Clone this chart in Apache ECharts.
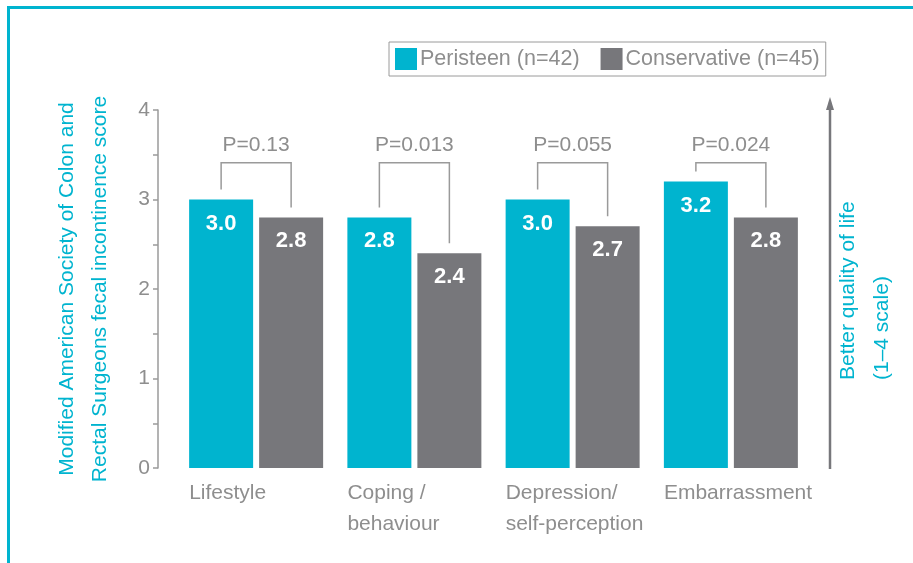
<!DOCTYPE html>
<html>
<head>
<meta charset="utf-8">
<script src="https://cdn.jsdelivr.net/npm/echarts@6/dist/echarts.min.js"></script>
<style>
  html, body { margin: 0; padding: 0; background: #fff; }
  #main { width: 913px; height: 563px; }
</style>
</head>
<body>
<div id="main"></div>
<script>
// data
const categories = ["Lifestyle", "Coping /\nbehaviour", "Depression/\nself-perception", "Embarrassment"];
const peristeen = [3.0, 2.8, 3.0, 3.2];
const conservative = [2.8, 2.4, 2.7, 2.8];
const pValues = ["P=0.13", "P=0.013", "P=0.055", "P=0.024"];
const seriesNames = ["Peristeen (n=42)", "Conservative (n=45)"];
const bracketLevel = 3.41;

const CYAN = "#00b4cf";
const GREY = "#77777b";
const TEXT = "#8e8e8e";
const LINE = "#9a9a9a";
const FONT = '"Liberation Sans", Arial, sans-serif';

let chart = echarts.init(document.getElementById("main"));

// p-value brackets drawn over the bar pairs
function renderBracket(params, api) {
  let i = api.value(0);
  let c = api.coord([i, 0])[0];
  let top = api.coord([i, bracketLevel])[1];
  let yL = api.coord([i, api.value(1)])[1] - 10;
  let yR = api.coord([i, api.value(2)])[1] - 10;
  let xl = c - 35, xr = c + 35;
  return {
    type: "group",
    children: [
      {
        type: "polyline",
        shape: { points: [[xl, yL], [xl, top], [xr, top], [xr, yR]] },
        style: { stroke: LINE, lineWidth: 1.5, fill: null }
      },
      {
        type: "text",
        x: c,
        y: top - 18,
        style: {
          text: pValues[params.dataIndex],
          fill: TEXT,
          fontSize: 21,
          fontFamily: FONT,
          align: "center",
          verticalAlign: "middle"
        }
      }
    ]
  };
}

let valueLabel = {
  show: true,
  position: "insideTop",
  distance: 13,
  color: "#fff",
  fontSize: 22,
  fontWeight: "bold",
  fontFamily: FONT,
  formatter: p => p.value.toFixed(1)
};

let option = {
  animation: false,
  textStyle: { fontFamily: FONT },
  grid: { left: 177, right: 103, top: 110, bottom: 95, containLabel: false },
  legend: {
    left: 389,
    top: 42,
    icon: "rect",
    itemWidth: 22,
    itemHeight: 22,
    itemGap: 21,
    borderColor: LINE,
    borderWidth: 1,
    padding: 6,
    textStyle: { fontSize: 21.5, color: TEXT, fontFamily: FONT, padding: [0, 0, 0, -2] },
    data: seriesNames
  },
  xAxis: {
    type: "category",
    data: categories,
    axisLine: { show: false },
    axisTick: { show: false },
    axisLabel: {
      interval: 0,
      margin: 10,
      formatter: v => v.split("\n").map(s => "{a|" + s + "}").join("\n"),
      rich: {
        a: { width: 134, align: "left", fontSize: 21, color: TEXT, fontFamily: FONT, lineHeight: 31 }
      }
    }
  },
  yAxis: {
    type: "value",
    min: 0,
    max: 4,
    interval: 1,
    offset: 19,
    axisLine: { show: true, lineStyle: { color: LINE, width: 1.5 } },
    axisTick: { show: true, length: 5, lineStyle: { color: LINE, width: 1.5 } },
    minorTick: { show: true, splitNumber: 2, length: 5, lineStyle: { color: LINE, width: 1.5 } },
    splitLine: { show: false },
    axisLabel: { margin: 8, fontSize: 21, color: TEXT, fontFamily: FONT },
    name: "Modified American Society of Colon and\nRectal Surgeons fecal incontinence score",
    nameLocation: "middle",
    nameGap: 41,
    nameTextStyle: { color: CYAN, fontSize: 21, lineHeight: 33, fontFamily: FONT }
  },
  series: [
    {
      name: seriesNames[0],
      type: "bar",
      data: peristeen,
      barWidth: 64,
      barGap: "9.375%",
      itemStyle: { color: CYAN },
      label: valueLabel
    },
    {
      name: seriesNames[1],
      type: "bar",
      data: conservative,
      barWidth: 64,
      itemStyle: { color: GREY },
      label: valueLabel
    },
    {
      type: "custom",
      renderItem: renderBracket,
      data: categories.map((c, i) => [i, peristeen[i], conservative[i]]),
      z: 5,
      silent: true
    }
  ],
  graphic: [
    // frame
    {
      type: "polyline",
      shape: { points: [[8.5, 563], [8.5, 7.5], [913, 7.5]] },
      style: { stroke: CYAN, lineWidth: 3, fill: null }
    },
    // quality arrow
    {
      type: "line",
      shape: { x1: 830, y1: 469, x2: 830, y2: 108 },
      style: { stroke: GREY, lineWidth: 2.5 }
    },
    {
      type: "polygon",
      shape: { points: [[826, 110], [834, 110], [830, 97]] },
      style: { fill: GREY }
    },
    {
      type: "text",
      x: 848,
      y: 380,
      rotation: Math.PI / 2,
      style: { text: "Better quality of life", fill: CYAN, fontSize: 21, fontFamily: FONT, align: "left", verticalAlign: "middle" }
    },
    {
      type: "text",
      x: 882,
      y: 380,
      rotation: Math.PI / 2,
      style: { text: "(1\u20134 scale)", fill: CYAN, fontSize: 21, fontFamily: FONT, align: "left", verticalAlign: "middle" }
    }
  ]
};

chart.setOption(option);
</script>
</body>
</html>
